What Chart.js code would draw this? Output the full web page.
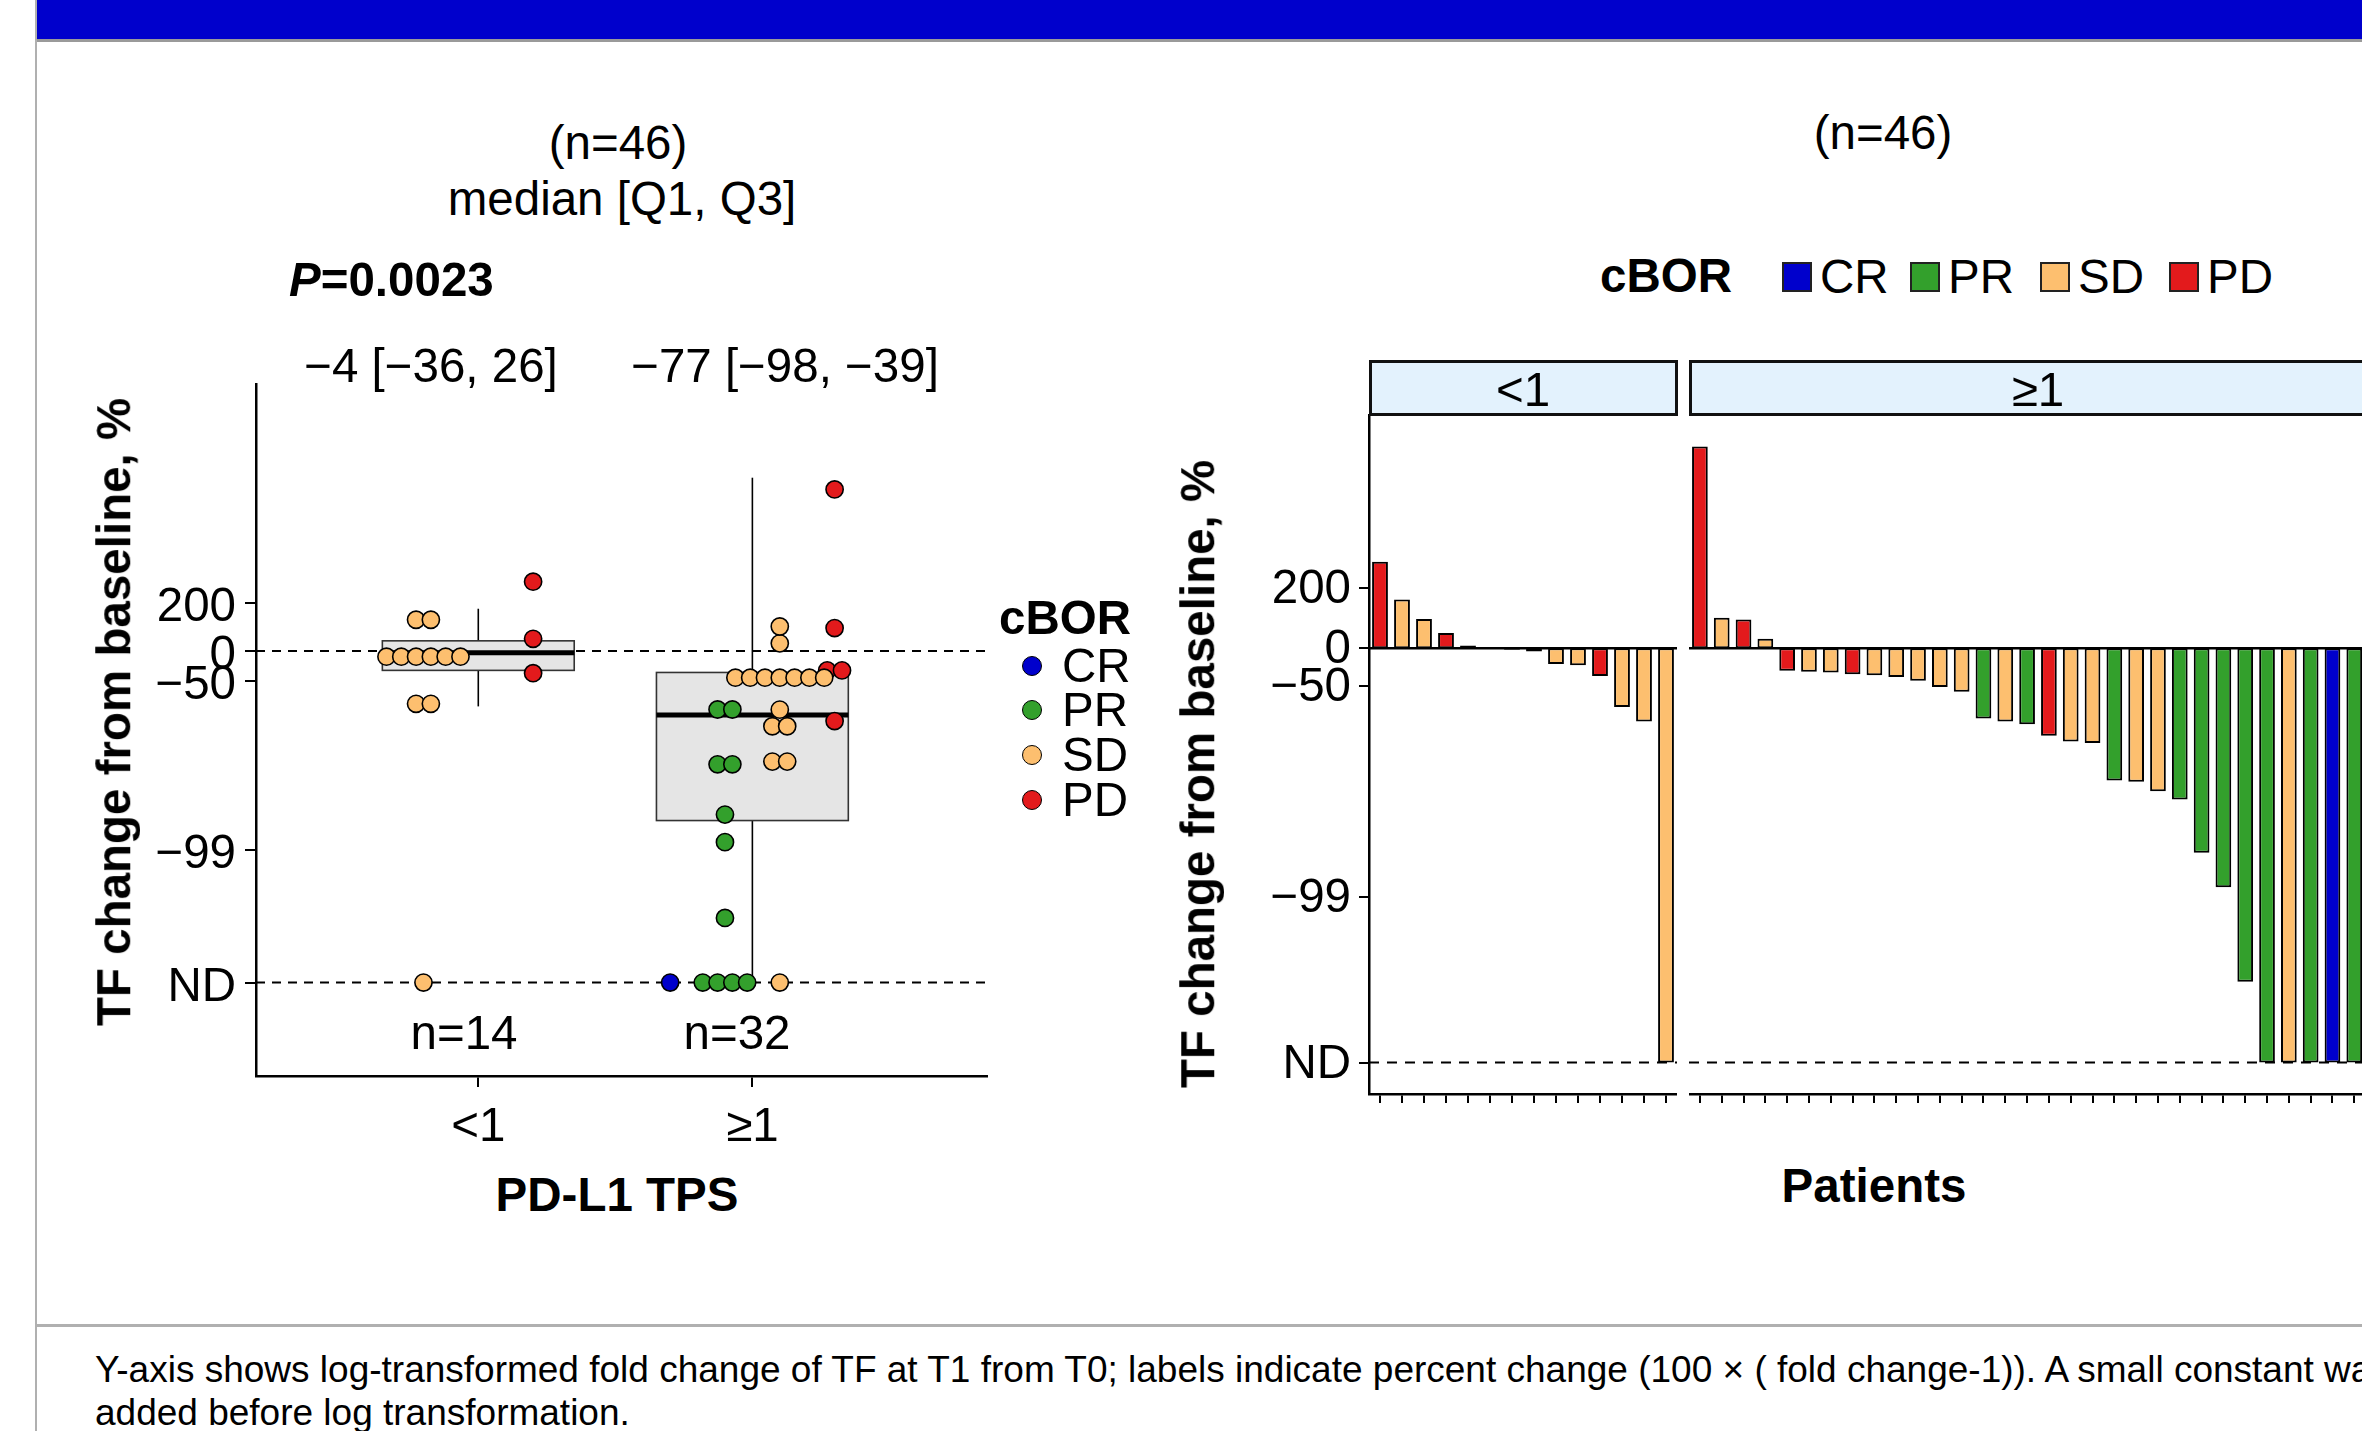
<!DOCTYPE html>
<html>
<head>
<meta charset="utf-8">
<script src="https://cdn.jsdelivr.net/npm/chart.js@4.4.1/dist/chart.umd.min.js"></script>
<style>
  body { margin: 0; width: 2362px; height: 1431px; overflow: hidden; background: #fff; position: relative;
         font-family: "Liberation Sans", Arial, sans-serif; color: #000; }
  .box { position: absolute; }
  .lbl { position: absolute; white-space: nowrap; line-height: 1; font-size: 47.5px; }
</style>
</head>
<body>
<div class="box" style="left:36px;top:0;width:2326px;height:39px;background:#0000cc"></div>
<div class="box" style="left:36px;top:39px;width:2326px;height:3px;background:#9a9a9a"></div>
<div class="box" style="left:35px;top:0;width:2px;height:1431px;background:#b0b0b0"></div>
<div class="box" style="left:36px;top:1324px;width:2326px;height:3px;background:#b0b0b0"></div>

<div class="box" style="left:0;top:300px;width:1000px;height:860px"><canvas id="dots"></canvas></div>
<div class="box" style="left:1200px;top:414px;width:477px;height:720px"><canvas id="wfLow"></canvas></div>
<div class="box" style="left:1689px;top:414px;width:698px;height:720px"><canvas id="wfHigh"></canvas></div>

<script>
// ---- data ----
const tpsGroups = ['<1', '≥1'];
const borCats = ['CR', 'PR', 'SD', 'PD'];
const borColors = ['#0000cc', '#33a02c', '#fdbf6f', '#e31a1c'];

// % change from baseline per patient, sorted as in the waterfall; -100 = ND
const pctLow = [389, 144, 71, 32, 5, 1, -3, -6, -25, -27, -40, -66, -74, -100];
const borLow = ['PD', 'SD', 'SD', 'PD', 'SD', 'SD', 'SD', 'SD', 'SD', 'SD', 'PD', 'SD', 'SD', 'SD'];
const pctHigh = [3950, 75, 69, 19, -34, -35, -36, -38, -39, -41, -45, -51, -55, -72.5, -74, -75.3,
                 -80, -82, -82.5, -91.2, -91.4, -92.8, -93.8, -97.7, -98.8, -99.83,
                 -100, -100, -100, -100, -100, -100];
const borHigh = ['PD', 'SD', 'PD', 'SD', 'PD', 'SD', 'SD', 'PD', 'SD', 'SD', 'SD', 'SD', 'SD', 'PR', 'SD', 'PR',
                 'PD', 'SD', 'SD', 'PR', 'SD', 'SD', 'PR', 'PR', 'PR', 'PR',
                 'PR', 'SD', 'PR', 'CR', 'PR', 'PR'];

// box summaries (%)
const boxMedian = [-4, -77];
const boxQ1 = [-36, -98];
const boxQ3 = [26, -39];
const whiskLow = [-72, -100];
const whiskHigh = [163, 5200];
const groupN = ['n=14', 'n=32'];
const boxLabels = ['−4 [−36, 26]', '−77 [−98, −39]'];

// y ticks
const tickPct = [-100, -99, -50, 0, 200];
const tickLabels = ['ND', '−99', '−50', '0', '200'];

const EPS = 0.0005;
const tf = p => Math.log10(1 + p / 100 + EPS);

const FONT = "'Liberation Sans', Arial, sans-serif";
const tickFont = { family: FONT, size: 47.5 };

// ---- dot plot (binned like a dotplot, dodged by response) ----
const allT = pctLow.concat(pctHigh).map(tf);
const binW = (Math.max(...allT) - Math.min(...allT)) / 30;
const stackStep = 0.054;
const dodgeW = 0.8;
const boxW = 0.7;

const dots = {};
borCats.forEach(c => dots[c] = []);
[[pctLow, borLow], [pctHigh, borHigh]].forEach(([pcts, bors], gi) => {
  const present = borCats.filter(c => bors.includes(c));
  present.forEach((c, j) => {
    const off = -dodgeW / 2 + dodgeW * (j + 0.5) / present.length;
    const vals = pcts.filter((p, i) => bors[i] === c).map(tf).sort((a, b) => a - b);
    const rows = [];
    let cur = null;
    vals.forEach(v => {
      if (!cur || v >= cur.end) { cur = { lo: v, hi: v, end: v + binW, n: 0 }; rows.push(cur); }
      cur.hi = v; cur.n++;
    });
    rows.forEach(r => {
      for (let k = 0; k < r.n; k++) {
        dots[c].push({ x: gi + 1 + off + (k - (r.n - 1) / 2) * stackStep, y: (r.lo + r.hi) / 2 });
      }
    });
  });
});

function yTicks(s) { s.ticks = tickPct.map(p => ({ value: tf(p) })); }

function line(ctx, x1, y1, x2, y2) { ctx.beginPath(); ctx.moveTo(x1, y1); ctx.lineTo(x2, y2); ctx.stroke(); }

const boxPlugin = {
  id: 'boxes',
  beforeDatasetsDraw(chart) {
    const { ctx, chartArea: a, scales: { x, y } } = chart;
    ctx.save();
    ctx.strokeStyle = '#000';
    ctx.lineWidth = 2;
    ctx.setLineDash([9, 7]);
    [0, -100].forEach(p => { const py = y.getPixelForValue(tf(p)); line(ctx, a.left, py, a.right, py); });
    ctx.setLineDash([]);
    tpsGroups.forEach((g, i) => {
      const cx = x.getPixelForValue(i + 1);
      const hw = x.getPixelForValue(i + 1 + boxW / 2) - cx;
      const top = y.getPixelForValue(tf(boxQ3[i]));
      const bot = y.getPixelForValue(tf(boxQ1[i]));
      const med = y.getPixelForValue(tf(boxMedian[i]));
      ctx.lineWidth = 1.6; ctx.strokeStyle = '#000';
      line(ctx, cx, y.getPixelForValue(tf(whiskHigh[i])), cx, top);
      line(ctx, cx, bot, cx, y.getPixelForValue(tf(whiskLow[i])));
      ctx.fillStyle = '#e5e5e5';
      ctx.fillRect(cx - hw, top, 2 * hw, bot - top);
      ctx.strokeStyle = '#333';
      ctx.strokeRect(cx - hw, top, 2 * hw, bot - top);
      ctx.lineWidth = 5; ctx.strokeStyle = '#000';
      line(ctx, cx - hw, med, cx + hw, med);
    });
    ctx.restore();
  }
};

new Chart(document.getElementById('dots'), {
  type: 'scatter',
  data: {
    datasets: borCats.map((c, k) => ({
      label: c, data: dots[c], backgroundColor: borColors[k], borderColor: '#000',
      borderWidth: 1.6, pointRadius: 8.6
    }))
  },
  options: {
    responsive: true, maintainAspectRatio: false, animation: false, events: [],
    layout: { padding: { top: 84, right: 13, left: 0, bottom: 0 } },
    plugins: { legend: { display: false }, tooltip: { enabled: false } },
    scales: {
      x: {
        type: 'linear', min: 0.189, max: 2.856,
        afterBuildTicks: s => { s.ticks = tpsGroups.map((g, i) => ({ value: i + 1 })); },
        afterFit: s => { s.height = 84; },
        ticks: { callback: (v, i) => tpsGroups[i], font: tickFont, color: '#000', padding: 12, autoSkip: false, maxRotation: 0 },
        grid: { drawOnChartArea: false, tickLength: 11, color: '#000', lineWidth: 2 },
        border: { color: '#000', width: 2.5 }
      },
      y: {
        min: -4.231, max: 2.657,
        afterBuildTicks: yTicks,
        afterFit: s => { s.width = 256; s.paddingTop = 0; s.paddingBottom = 0; },
        ticks: { callback: (v, i) => tickLabels[i], font: tickFont, color: '#000', padding: 9, autoSkip: false, labelOffset: 5 },
        grid: { drawOnChartArea: false, tickLength: 11, color: '#000', lineWidth: 2 },
        border: { color: '#000', width: 2.5 }
      }
    }
  },
  plugins: [boxPlugin]
});

// ---- waterfall ----
const WF_MIN = -3.551, WF_MAX = 1.866;
const refLines = {
  id: 'refLines',
  beforeDatasetsDraw(chart) {
    const { ctx, chartArea: a, scales: { y } } = chart;
    ctx.save();
    ctx.strokeStyle = '#000'; ctx.lineWidth = 2; ctx.setLineDash([10, 8]);
    const py = y.getPixelForValue(tf(-100));
    line(ctx, a.left, py, a.right, py);
    ctx.restore();
  },
  afterDatasetsDraw(chart) {
    const { ctx, chartArea: a, scales: { y } } = chart;
    ctx.save();
    ctx.strokeStyle = '#000'; ctx.lineWidth = 2.5;
    const py = y.getPixelForValue(0);
    line(ctx, a.left, py, a.right, py);
    ctx.restore();
  }
};

function waterfall(id, pcts, bors, withAxis) {
  const yOpts = withAxis ? {
    min: WF_MIN, max: WF_MAX,
    afterBuildTicks: yTicks,
    afterFit: s => { s.width = 169; s.paddingTop = 0; s.paddingBottom = 0; },
    ticks: { callback: (v, i) => tickLabels[i], font: tickFont, color: '#000', padding: 8, autoSkip: false, labelOffset: 2 },
    grid: { drawOnChartArea: false, tickLength: 10, color: '#000', lineWidth: 2 },
    border: { color: '#000', width: 2.5 }
  } : { display: false, min: WF_MIN, max: WF_MAX };
  return new Chart(document.getElementById(id), {
    type: 'bar',
    data: {
      labels: pcts.map((p, i) => String(i + 1)),
      datasets: [{
        data: pcts.map(tf),
        backgroundColor: bors.map(b => borColors[borCats.indexOf(b)]),
        borderColor: '#000', borderWidth: 2, borderSkipped: false,
        barPercentage: 0.72, categoryPercentage: 1
      }]
    },
    options: {
      responsive: true, maintainAspectRatio: false, animation: false, events: [],
      layout: { padding: 0 },
      plugins: { legend: { display: false }, tooltip: { enabled: false } },
      scales: {
        x: {
          offset: true,
          afterFit: s => { s.height = 40; },
          ticks: { display: false, autoSkip: false },
          grid: { offset: false, drawOnChartArea: false, tickLength: 9, color: '#000', lineWidth: 2 },
          border: { color: '#000', width: 2.5 }
        },
        y: yOpts
      }
    },
    plugins: [refLines]
  });
}
waterfall('wfLow', pctLow, borLow, true);
waterfall('wfHigh', pctHigh, borHigh, false);

// ---- text ----
function addText(html, x, y, opt = {}) {
  const d = document.createElement('div');
  d.className = 'lbl';
  d.innerHTML = html;
  d.style.left = x + 'px';
  d.style.top = y + 'px';
  if (opt.size) d.style.fontSize = opt.size + 'px';
  if (opt.bold) d.style.fontWeight = 'bold';
  const ax = opt.left ? '0' : '-50%';
  d.style.transform = 'translate(' + ax + ', -50%)' + (opt.rotate ? ' rotate(-90deg)' : '');
  document.body.appendChild(d);
  return d;
}
function addBox(x, y, w, h, style) {
  const d = document.createElement('div');
  d.className = 'box';
  Object.assign(d.style, { left: x + 'px', top: y + 'px', width: w + 'px', height: h + 'px', boxSizing: 'border-box' }, style);
  document.body.appendChild(d);
}

addText('(n=46)', 618, 143);
addText('median [Q1, Q3]', 622, 199);
addText('<i>P</i>=0.0023', 289, 280, { bold: true, left: true });
addText(boxLabels[0], 431, 366);
addText(boxLabels[1], 785, 366);
addText(groupN[0], 464, 1033);
addText(groupN[1], 737, 1033);
addText('PD-L1 TPS', 617, 1195, { bold: true });
addText('TF change from baseline, %', 114, 712, { bold: true, rotate: true });

addText('cBOR', 999, 618, { bold: true, left: true });
borCats.forEach((c, k) => {
  const cy = [666, 710, 755, 800][k];
  addBox(1022, cy - 10, 20, 20, { borderRadius: '50%', background: borColors[k], border: '1.5px solid #000' });
  addText(c, 1062, cy, { left: true });
});

addText('(n=46)', 1883, 133);
addText('cBOR', 1600, 276, { bold: true, left: true });
[1782, 1910, 2040, 2169].forEach((bx, k) => {
  addBox(bx, 262, 30, 30, { background: borColors[k], border: '2px solid #222' });
  addText(borCats[k], bx + 38, 277, { left: true });
});

addBox(1369, 360, 309, 56, { background: '#e3f2fd', border: '3px solid #111' });
addBox(1689, 360, 720, 56, { background: '#e3f2fd', border: '3px solid #111' });
addText(tpsGroups[0], 1523, 390);
addText(tpsGroups[1], 2038, 390);
addText('TF change from baseline, %', 1198, 774, { bold: true, rotate: true });
addText('Patients', 1874, 1186, { bold: true });

addText('Y-axis shows log-transformed fold change of TF at T1 from T0; labels indicate percent change (100 × ( fold change-1)). A small constant was', 95, 1369, { size: 37, left: true });
addText('added before log transformation.', 95, 1412, { size: 37, left: true });
</script>
</body>
</html>
